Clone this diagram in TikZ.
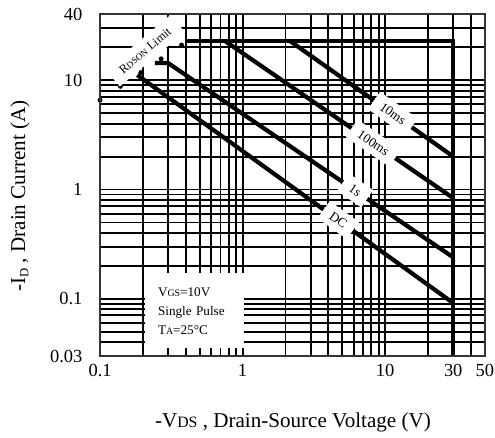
\documentclass[tikz,border=0pt]{standalone}
\usepackage{fontspec}
\setmainfont{Liberation Serif}
\usetikzlibrary{positioning}
\newcommand{\smallcap}[1]{\scalebox{0.75}{#1}}
\newcommand{\lowsub}[1]{\raisebox{-0.35ex}{\scalebox{0.6}{#1}}}
\tikzset{
  gridline/.style={line width=1.1pt},
  frameline/.style={line width=1.3pt,black!80},
  soaline/.style={line width=2.4pt},
  rdsline/.style={line width=2.8pt,line cap=round,dash pattern=on 0pt off 14pt},
  curvelab/.style={fill=white,sloped,inner xsep=5pt,inner ysep=3.5pt,font=\fontsize{7.5}{8}\selectfont},
  ticklab/.style={font=\fontsize{10.5}{12}\selectfont},
  axislab/.style={font=\fontsize{12}{14}\selectfont},
  condbox/.style={fill=white,inner xsep=0.26cm,inner ysep=0pt,text width=1.46cm,minimum height=1.5cm,align=left,font=\fontsize{7.5}{10.8}\selectfont}
}
\begin{document}
\begin{tikzpicture}
\useasboundingbox (0,0) rectangle (9.9,8.74);
\begin{scope}[shift={(4.852,4.95)},x=2.852cm,y=2.19cm]
% grid
\foreach \v in {0.2,0.3,0.4,0.5,0.6,0.7,0.8,0.9,1,2,3,4,5,6,7,8,9,10,20,30,40}
  \draw[gridline] ({log10(\v)},{log10(0.03)}) -- ({log10(\v)},{log10(40)});
\foreach \v in {0.04,0.05,0.06,0.07,0.08,0.09,0.1,0.2,0.3,0.4,0.5,0.6,0.7,0.8,0.9,1,2,3,4,5,6,7,8,9,10,20,30}
  \draw[gridline] (-1,{log10(\v)}) -- ({log10(50)},{log10(\v)});

% test conditions
\node[condbox] (cond) at ({log10(0.46)},{log10(0.077)})
  {V\smallcap{GS}=10V\\Single Pulse\\T\smallcap{A}=25°C};

% limit points
\coordinate (rd0) at (-1,{log10(6.55)});
\coordinate (rd1) at ({log10(0.5)},{log10(27)});
\coordinate (top0) at ({log10(0.41)},{log10(22.7)});
\coordinate (top1) at ({log10(30)},{log10(22.7)});
\coordinate (bot1) at ({log10(30)},{log10(0.03)});
\coordinate (ms10a) at ({log10(2.15)},{log10(22.7)});
\coordinate (ms10b) at ({log10(30)},{log10(2)});
\coordinate (ms100a) at ({log10(0.753)},{log10(22.7)});
\coordinate (ms100b) at ({log10(30)},{log10(0.835)});
\coordinate (s1a) at ({log10(0.243)},{log10(14.3)});
\coordinate (s1b) at ({log10(0.3)},{log10(14.3)});
\coordinate (s1c) at ({log10(30)},{log10(0.24)});
\coordinate (dca) at ({log10(0.182)},{log10(11.1)});
\coordinate (dcb) at ({log10(30)},{log10(0.0915)});

% Rds(on) limit
\draw[rdsline] (rd0) -- (rd1);
\node[fill=white,rotate=40,inner xsep=6pt,inner ysep=4pt,font=\fontsize{7}{8}\selectfont] (rdslab)
  at ({log10(0.207)},{log10(18.5)}) {R\smallcap{DSON} Limit};

% SOA curves
\draw[soaline] (top0) -- (top1) -- (bot1);
\draw[soaline] (ms10a) -- node[curvelab,pos=0.63] (ms10lab) {10ms} (ms10b);
\draw[soaline] (ms100a) -- node[curvelab,pos=0.65] (ms100lab) {100ms} (ms100b);
\draw[soaline] (s1a) -- (s1b) -- node[curvelab,pos=0.656] (s1lab) {1s} (s1c);
\draw[soaline] (dca) -- node[curvelab,pos=0.636] (dclab) {DC} (dcb);

% frame
\draw[frameline] (-1,{log10(0.03)}) rectangle ({log10(50)},{log10(40)});

% tick labels
\foreach \v/\t [count=\i] in {40/40,10/10,1/1,0.1/0.1,0.03/0.03}
  \node[ticklab,left=6.5pt] (ytick\i) at (-1,{log10(\v)}) {\t};
\foreach \v/\t [count=\i] in {0.1/0.1,1/1,10/10,30/30,50/50}
  \node[ticklab,below=1pt] (xtick\i) at ({log10(\v)},{log10(0.03)}) {\t};

% axis titles
\node[axislab] (xtitle) at (0.353,-2.132) {-V\smallcap{DS} , Drain-Source Voltage (V)};
\node[axislab,rotate=90] (ytitle) at (-1.561,-0.059) {-I\lowsub{D} , Drain Current (A)};
\end{scope}
\end{tikzpicture}
\end{document}
